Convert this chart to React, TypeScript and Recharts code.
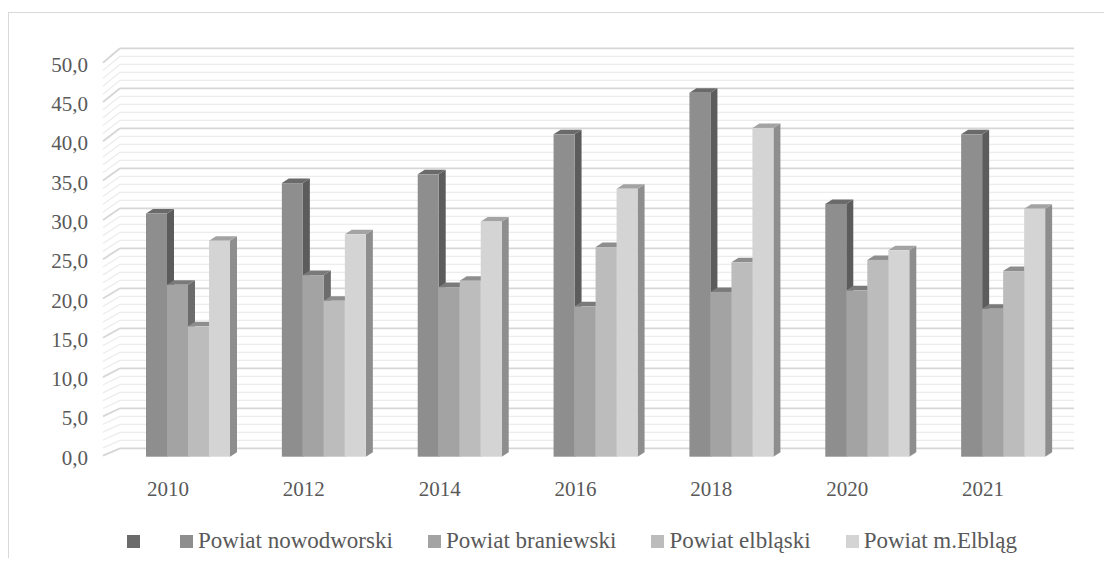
import { BarChart, Bar, XAxis, YAxis, CartesianGrid } from "recharts";

// Values per year, one array per powiat
const years = ["2010", "2012", "2014", "2016", "2018", "2020", "2021"];
const nowodworski = [30.4, 34.2, 35.3, 40.3, 45.5, 31.6, 40.3];
const braniewski = [21.5, 22.7, 21.2, 18.8, 20.6, 20.8, 18.5];
const elblaski = [16.3, 19.5, 22.0, 26.2, 24.3, 24.6, 23.2];
const mElblag = [27.0, 27.8, 29.4, 33.5, 41.1, 25.8, 31.0];

// one tick per unit so the grid gets its minor lines; labels only every 5
const yTicks = Array.from({ length: 51 }, (_, i) => i);
const LABEL_STEP = 5;

const rows = years.map((year, i) => ({
  year,
  nowodworski: nowodworski[i],
  braniewski: braniewski[i],
  elblaski: elblaski[i],
  mElblag: mElblag[i],
}));

const series = [
  { key: "nowodworski", name: "Powiat nowodworski", front: "#8e8e8e", top: "#6a6a6a", side: "#5c5c5c" },
  { key: "braniewski", name: "Powiat braniewski", front: "#a3a3a3", top: "#7a7a7a", side: "#6c6c6c" },
  { key: "elblaski", name: "Powiat elbląski", front: "#bcbcbc", top: "#8e8e8e", side: "#7e7e7e" },
  { key: "mElblag", name: "Powiat m.Elbląg", front: "#d4d4d4", top: "#a3a3a3", side: "#8e8e8e" },
];

const legendItems = [
  { name: "", color: "#6b6b6b" },
  ...series.map((s) => ({ name: s.name, color: s.front })),
];

const FONT = '"Liberation Serif", "Times New Roman", serif';
const TEXT = "#595959";
const PLOT_BOTTOM = 444.7;
const UNIT = 8; // px per unit on the 0..50 axis (400px plot)
const WALL_Y = 8.4; // back wall sits a little above the bar fronts
const SIDE_X = 95; // left edge of the side wall
const DEPTH_X = 7;
const DEPTH_Y = 4.5;

// 3D-looking column: side face, top cap, then front face
const Column = (p: any) => {
  const { x, y, width, height, front, top, side } = p;
  if (height == null || height <= 0) return null;
  const r = x + width;
  return (
    <g>
      <polygon
        points={`${r},${y} ${r + DEPTH_X},${y - DEPTH_Y} ${r + DEPTH_X},${y + height - DEPTH_Y} ${r},${y + height}`}
        fill={side}
      />
      <polygon
        points={`${x},${y} ${x + DEPTH_X},${y - DEPTH_Y} ${r + DEPTH_X},${y - DEPTH_Y} ${r},${y}`}
        fill={top}
      />
      <rect x={x} y={y} width={width} height={height} fill={front} />
    </g>
  );
};

const frontY = (y: number) => PLOT_BOTTOM + (y - PLOT_BOTTOM) * 0.9825;

// back wall line plus the diagonal running across the side wall
const gridLine = (props: any) => {
  const { x1, x2, y1 } = props;
  const v = Math.round((PLOT_BOTTOM - y1) / UNIT);
  const major = v % LABEL_STEP === 0;
  const back = y1 - WALL_Y;
  const stroke = major ? "#d6d6d6" : "#ececec";
  const sw = major ? 1.8 : 1.3;
  return (
    <g key={`grid-${v}`}>
      <line x1={SIDE_X} y1={frontY(y1) - 1} x2={x1} y2={back} stroke={stroke} strokeWidth={sw} />
      <line x1={x1} y1={back} x2={x2 + 3} y2={back} stroke={stroke} strokeWidth={sw} />
    </g>
  );
};

const YTick = (p: any) => {
  const { y, payload } = p;
  if (payload.value % LABEL_STEP !== 0) return <g />;
  return (
    <text
      x={80}
      y={frontY(y) + 1}
      textAnchor="end"
      dominantBaseline="central"
      fontFamily={FONT}
      fontSize={21}
      fill={TEXT}
    >
      {Number(payload.value).toFixed(1).replace(".", ",")}
    </text>
  );
};

const XTick = (p: any) => {
  const { x, y, payload } = p;
  return (
    <text
      x={x - 20}
      y={y + 32}
      textAnchor="middle"
      dominantBaseline="central"
      fontFamily={FONT}
      fontSize={21}
      fill={TEXT}
    >
      {payload.value}
    </text>
  );
};

export default function App() {
  return (
    <div style={{ paddingTop: 4 }}>
      <div style={{ position: "relative", width: 1104, height: 546 }}>
        <div
          style={{
            position: "absolute",
            left: 0,
            top: 0,
            right: 0,
            bottom: -9,
            borderTop: "1px solid #d9d9d9",
            borderLeft: "1px solid #d9d9d9",
            pointerEvents: "none",
          }}
        />
        <div style={{ position: "absolute", left: 0, top: 0 }}>
          <BarChart
            width={1104}
            height={546}
            data={rows}
            margin={{ top: 44.7, right: 41, left: 0, bottom: 61.3 }}
            barGap={0}
          >
            <CartesianGrid vertical={false} horizontal={gridLine} />
            <XAxis
              dataKey="year"
              height={40}
              axisLine={false}
              tickLine={false}
              tickSize={0}
              tickMargin={0}
              interval={0}
              tick={XTick}
            />
            <YAxis
              width={112}
              domain={[0, 50]}
              ticks={yTicks}
              interval={0}
              axisLine={false}
              tickLine={false}
              tickSize={0}
              tickMargin={0}
              tick={YTick}
            />
            {series.map((s) => (
              <Bar
                key={s.key}
                dataKey={s.key}
                name={s.name}
                fill={s.front}
                barSize={21}
                isAnimationActive={false}
                shape={(p: any) => <Column {...p} front={s.front} top={s.top} side={s.side} />}
              />
            ))}
          </BarChart>
        </div>
        <div
          style={{
            position: "absolute",
            left: 119,
            top: 517,
            display: "flex",
            alignItems: "center",
            fontFamily: FONT,
            fontSize: 23,
            lineHeight: "24px",
            color: TEXT,
            whiteSpace: "nowrap",
          }}
        >
          {legendItems.map((item, i) => (
            <div key={i} style={{ display: "flex", alignItems: "center", marginRight: 35 }}>
              <span style={{ width: 13, height: 13, background: item.color, marginRight: 5 }} />
              <span>{item.name}</span>
            </div>
          ))}
        </div>
      </div>
    </div>
  );
}
